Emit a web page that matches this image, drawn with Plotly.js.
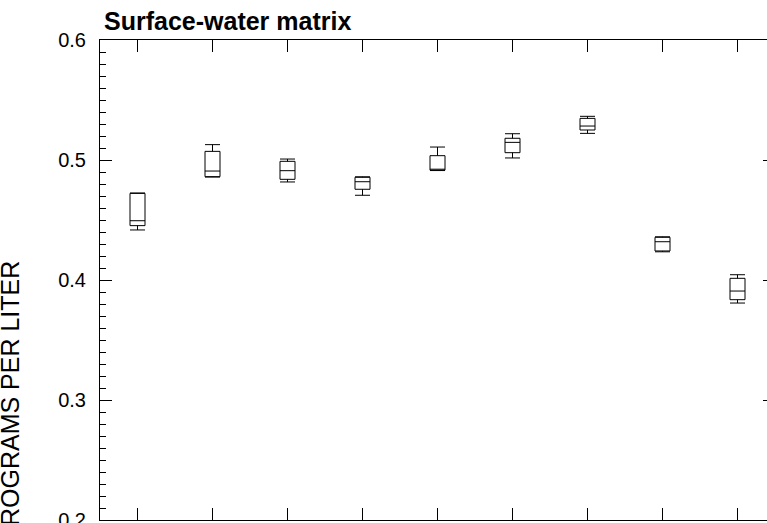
<!DOCTYPE html>
<html>
<head>
<meta charset="utf-8">
<script src="https://cdn.plot.ly/plotly-3.0.1.min.js"></script>
<style>
html, body { margin: 0; padding: 0; overflow: hidden; background: #fff; }
#chart { width: 800px; height: 620px; }
</style>
</head>
<body>
<div id="chart"></div>
<script>
// Sample positions along the x axis (labels are cropped off in the reference)
const positions = [1, 2, 3, 4, 5, 6, 7, 8, 9];
// Box statistics, micrograms per liter
const upperWhisker = [0.4725, 0.5128, 0.5008, 0.4860, 0.5108, 0.5219, 0.5364, 0.4360, 0.4044];
const q3Values     = [0.4722, 0.5072, 0.4989, 0.4856, 0.5036, 0.5181, 0.5347, 0.4356, 0.4014];
const medianValues = [0.4494, 0.4908, 0.4911, 0.4819, 0.4920, 0.5147, 0.5283, 0.4319, 0.3908];
const q1Values     = [0.4453, 0.4861, 0.4839, 0.4756, 0.4915, 0.5061, 0.5250, 0.4242, 0.3836];
const lowerWhisker = [0.4417, 0.4858, 0.4817, 0.4706, 0.4912, 0.5017, 0.5222, 0.4235, 0.3808];
const yTickValues = [0.2, 0.3, 0.4, 0.5, 0.6];
const yTickLabels = ['0.2', '0.3', '0.4', '0.5', '0.6'];

const FONT = 'Liberation Sans, Arial, sans-serif';

const trace = {
  type: 'box',
  x: positions,
  q1: q1Values,
  median: medianValues,
  q3: q3Values,
  lowerfence: lowerWhisker,
  upperfence: upperWhisker,
  width: 0.2,
  whiskerwidth: 1,
  boxpoints: false,
  fillcolor: 'rgba(255,255,255,0)',
  line: { color: '#000', width: 1 },
  hoverinfo: 'skip',
  showlegend: false
};

const layout = {
  width: 800,
  height: 620,
  margin: { l: 100, r: 25, t: 40, b: 100 },
  paper_bgcolor: '#fff',
  plot_bgcolor: '#fff',
  font: { family: FONT, color: '#000' },
  title: {
    text: '<b>Surface-water matrix</b>',
    font: { family: FONT, size: 25, color: '#000' },
    xref: 'paper', x: 0, xanchor: 'left',
    yref: 'paper', y: 1, yanchor: 'bottom',
    pad: { b: 10, l: 4 }
  },
  xaxis: {
    range: [0.5, 9.5],
    tickvals: positions,
    showticklabels: false,
    ticks: 'inside',
    ticklen: 12,
    tickcolor: '#000',
    tickwidth: 1,
    showline: true,
    linecolor: '#000',
    linewidth: 1,
    mirror: 'ticks',
    showgrid: false,
    zeroline: false
  },
  yaxis: {
    range: [0.2, 0.6],
    tickvals: yTickValues,
    ticktext: yTickLabels,
    ticks: 'inside',
    ticklen: 12,
    tickcolor: '#000',
    tickwidth: 1,
    ticklabelstandoff: 9,
    tickfont: { family: FONT, size: 20, color: '#000' },
    minor: { dtick: 0.01, ticks: 'inside', ticklen: 6, tickcolor: '#000', tickwidth: 1, showgrid: false },
    showline: true,
    linecolor: '#000',
    linewidth: 1,
    mirror: 'ticks',
    showgrid: false,
    zeroline: false
  },
  annotations: [{
    text: 'MICROGRAMS PER LITER',
    textangle: -90,
    xref: 'paper', x: -0.1335, xanchor: 'center',
    yref: 'paper', y: 0.2167, yanchor: 'middle',
    showarrow: false,
    font: { family: FONT, size: 25, color: '#000' }
  }]
};

Plotly.newPlot('chart', [trace], layout, { displayModeBar: false, staticPlot: true });
</script>
</body>
</html>
